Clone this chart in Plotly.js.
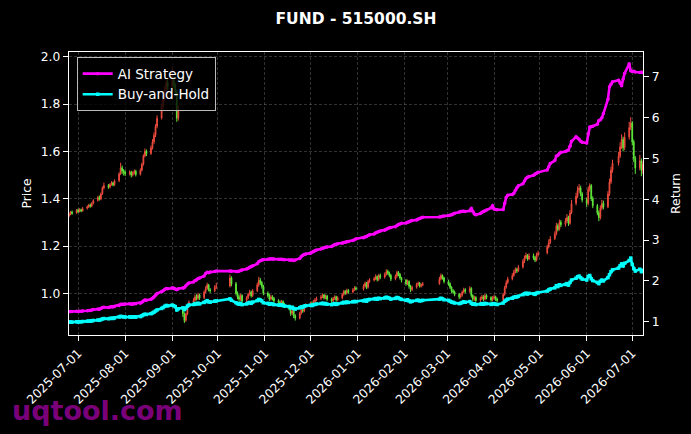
<!DOCTYPE html>
<html>
<head>
<meta charset="utf-8">
<script src="https://cdn.plot.ly/plotly-3.0.1.min.js"></script>
<style>html,body{margin:0;padding:0;background:#000;}#chart{width:691px;height:434px;}</style>
</head>
<body>
<div id="chart"></div>
<script>
// Trading calendar (weekdays minus exchange holidays)
const startDate = '2025-06-25';
const endDate = '2026-07-08';
const holidays = ['2025-10-01','2025-10-02','2025-10-03','2025-10-06','2025-10-07','2025-10-08',
  '2026-01-01','2026-01-02','2026-02-16','2026-02-17','2026-02-18','2026-02-19','2026-02-20','2026-02-23',
  '2026-04-06','2026-05-01','2026-05-04','2026-05-05','2026-06-19'];

const tickLabels = ['2025-07-01','2025-08-01','2025-09-01','2025-10-01','2025-11-01','2025-12-01',
  '2026-01-01','2026-02-01','2026-03-01','2026-04-01','2026-05-01','2026-06-01','2026-07-01'];

const openP = [
  1.328,1.336,1.344,1.340,
  1.352,1.346,1.354,1.349, 1.360,1.366,1.373,1.369,1.381, 1.393,1.406,1.399,1.421,1.446, 1.456,1.449,1.461,1.467,1.459, 1.476,1.506,1.531,1.519,
  1.513, 1.506,1.513,1.501,1.509,1.516, 1.503,1.521,1.546,1.581,1.601, 1.591,1.616,1.641,1.669,1.706, 1.741,1.791,1.821,1.861,1.891,
  1.876,1.901,1.881,1.851,1.741, 0.930,0.914,0.886,0.913,0.946, 0.963,0.971,0.986,0.979,0.993, 0.981,1.006,1.021,1.036,1.016, 1.011,1.026,
  1.031,1.066, 1.041,1.001,0.986,0.976,0.991, 0.969,0.981,0.996,1.006,0.991, 1.011,1.036,1.056,1.046,1.031,
  1.001,0.991,0.976,0.986,0.979, 0.969,0.963,0.959,0.966,0.953, 0.946,0.936,0.916,0.926,0.906, 0.896,0.916,0.931,0.926,0.946,
  0.951,0.959,0.953,0.966,0.973, 0.979,0.986,0.993,0.981,0.989, 0.976,0.969,0.979,0.986,0.973, 0.981,0.996,1.009,1.001,1.013, 1.006,1.016,1.023,
  1.019,1.031,1.043,1.026,1.051, 1.056,1.063,1.071,1.059,1.076, 1.069,1.081,1.093,1.086,1.076, 1.061,1.073,1.089,1.081,1.066,
  1.056,1.041,1.051,1.031,1.016, 1.026,1.039,1.043,1.031,1.036, 1.041,1.061,1.076,1.066,
  1.051,1.041,1.026,1.011,1.006, 0.996,0.986,0.993,1.006,1.016, 1.009,1.021,0.991,0.976,0.983, 0.971,0.979,0.986,0.976,0.991, 0.983,0.973,
  0.981,0.986,0.976, 0.971,0.996,1.026,1.046, 1.061,1.076,1.091,1.101,1.096, 1.111,1.136,1.151,1.161,1.146, 1.159,1.151,1.141,1.163,
  1.171,1.196,1.216, 1.231,1.251,1.286,1.271,1.301, 1.291,1.306,1.321,1.296,1.341, 1.381,1.411,1.436,1.446,1.421,
  1.396,1.381,1.441,1.456,1.401, 1.371,1.341,1.321,1.361,1.381, 1.366,1.421,1.471,1.521, 1.551,1.581,1.621,1.651,1.616, 1.661,1.701,
  1.721,1.641,1.571, 1.531,1.561,1.521
];
const highP = [
  1.342,1.348,1.350,1.356,
  1.358,1.360,1.358,1.365, 1.372,1.378,1.380,1.386,1.398, 1.412,1.414,1.426,1.452,1.468, 1.462,1.466,1.474,1.472,1.482, 1.512,1.552,1.540,1.525,
  1.520, 1.520,1.518,1.516,1.524,1.522, 1.528,1.552,1.588,1.612,1.608, 1.625,1.652,1.680,1.715,1.752, 1.800,1.835,1.875,1.910,1.905,
  1.960,1.915,1.890,1.862,1.795, 0.935,0.920,0.918,0.952,0.970, 0.980,0.995,0.996,1.002,0.998, 1.012,1.030,1.045,1.040,1.022, 1.035,1.045,
  1.080,1.072, 1.048,1.008,0.995,0.998,0.996, 0.988,1.002,1.015,1.012,1.018, 1.045,1.070,1.065,1.052,1.036,
  1.008,0.998,0.994,0.992,0.985, 0.975,0.970,0.972,0.970,0.960, 0.952,0.940,0.932,0.930,0.912, 0.922,0.938,0.940,0.952,0.958,
  0.965,0.966,0.972,0.980,0.986, 0.993,1.000,0.998,0.995,0.994, 0.982,0.985,0.992,0.990,0.988, 1.002,1.015,1.014,1.020,1.018, 1.022,1.030,1.030,
  1.038,1.050,1.048,1.058,1.064, 1.070,1.080,1.076,1.082,1.084, 1.088,1.102,1.100,1.092,1.082, 1.080,1.096,1.094,1.086,1.070,
  1.060,1.058,1.055,1.036,1.032, 1.045,1.050,1.048,1.042,1.048, 1.070,1.084,1.080,1.070,
  1.058,1.046,1.030,1.018,1.012, 1.002,1.000,1.012,1.024,1.022, 1.030,1.026,0.996,0.990,0.988, 0.986,0.994,0.992,0.998,0.996, 0.988,0.988,
  0.993,0.990,0.982, 1.002,1.032,1.055,1.070, 1.085,1.100,1.110,1.108,1.120, 1.145,1.160,1.172,1.166,1.170, 1.168,1.158,1.172,1.180,
  1.205,1.228,1.242, 1.262,1.298,1.295,1.312,1.310, 1.318,1.335,1.328,1.352,1.395, 1.425,1.452,1.462,1.455,1.428,
  1.405,1.452,1.465,1.462,1.410, 1.378,1.350,1.372,1.395,1.392, 1.432,1.485,1.535,1.565, 1.598,1.638,1.672,1.662,1.680, 1.725,1.745,
  1.728,1.650,1.580, 1.585,1.570,1.560
];
const lowP = [
  1.322,1.330,1.332,1.336,
  1.340,1.342,1.343,1.345, 1.354,1.360,1.362,1.364,1.376, 1.388,1.392,1.394,1.416,1.440, 1.442,1.444,1.455,1.452,1.454, 1.470,1.500,1.505,1.498,
  1.496, 1.498,1.490,1.494,1.502,1.494, 1.498,1.515,1.540,1.575,1.580, 1.585,1.608,1.632,1.660,1.698, 1.735,1.780,1.812,1.850,1.860,
  1.865,1.868,1.835,1.725,1.730, 0.900,0.875,0.880,0.908,0.940, 0.955,0.965,0.970,0.972,0.972, 0.976,1.000,1.015,1.008,1.002, 1.005,1.018,
  1.025,1.030, 0.992,0.975,0.965,0.968,0.960, 0.962,0.975,0.990,0.982,0.985, 1.005,1.028,1.035,1.020,0.992,
  0.982,0.968,0.970,0.970,0.960, 0.955,0.950,0.952,0.945,0.938, 0.928,0.905,0.908,0.895,0.885, 0.890,0.910,0.918,0.920,0.940,
  0.945,0.946,0.948,0.960,0.966, 0.972,0.980,0.974,0.975,0.968, 0.960,0.962,0.972,0.965,0.966, 0.975,0.990,0.994,0.995,0.998, 1.000,1.010,1.012,
  1.012,1.025,1.018,1.020,1.044, 1.050,1.056,1.050,1.052,1.060, 1.062,1.075,1.078,1.068,1.052, 1.055,1.066,1.072,1.058,1.046,
  1.032,1.035,1.020,1.005,1.010, 1.020,1.032,1.024,1.025,1.030, 1.036,1.055,1.058,1.042,
  1.032,1.018,1.002,0.998,0.988, 0.975,0.978,0.986,1.000,1.000, 1.002,0.982,0.966,0.968,0.962, 0.964,0.972,0.968,0.970,0.975, 0.965,0.966,
  0.974,0.968,0.962, 0.966,0.990,1.020,1.040, 1.055,1.070,1.084,1.086,1.090, 1.105,1.128,1.145,1.138,1.140, 1.142,1.132,1.135,1.155,
  1.165,1.190,1.208, 1.225,1.245,1.262,1.265,1.280, 1.282,1.298,1.285,1.290,1.335, 1.372,1.402,1.425,1.410,1.385,
  1.365,1.372,1.430,1.390,1.360, 1.330,1.305,1.312,1.352,1.355, 1.360,1.412,1.462,1.510, 1.540,1.572,1.610,1.600,1.605, 1.650,1.690,
  1.625,1.555,1.505, 1.520,1.495,1.505
];
const closeP = [
  1.335,1.342,1.338,1.350,
  1.345,1.352,1.348,1.358, 1.365,1.372,1.368,1.380,1.392, 1.405,1.398,1.420,1.445,1.455, 1.448,1.460,1.466,1.458,1.475, 1.505,1.530,1.518,1.512,
  1.505, 1.512,1.500,1.508,1.515,1.502, 1.520,1.545,1.580,1.600,1.590, 1.615,1.640,1.668,1.705,1.740, 1.790,1.820,1.860,1.890,1.875,
  1.900,1.880,1.850,1.740,1.780, 0.915,0.885,0.912,0.945,0.962, 0.970,0.985,0.978,0.992,0.980, 1.005,1.020,1.035,1.015,1.010, 1.025,1.030,
  1.065,1.040, 1.000,0.985,0.975,0.990,0.968, 0.980,0.995,1.005,0.990,1.010, 1.035,1.055,1.045,1.030,1.000,
  0.990,0.975,0.985,0.978,0.968, 0.962,0.958,0.965,0.952,0.945, 0.935,0.915,0.925,0.905,0.895, 0.915,0.930,0.925,0.945,0.950,
  0.958,0.952,0.965,0.972,0.978, 0.985,0.992,0.980,0.988,0.975, 0.968,0.978,0.985,0.972,0.980, 0.995,1.008,1.000,1.012,1.005, 1.015,1.022,1.018,
  1.030,1.042,1.025,1.050,1.055, 1.062,1.070,1.058,1.075,1.068, 1.080,1.092,1.085,1.075,1.060, 1.072,1.088,1.080,1.065,1.055,
  1.040,1.050,1.030,1.015,1.025, 1.038,1.042,1.030,1.035,1.040, 1.060,1.075,1.065,1.050,
  1.040,1.025,1.010,1.005,0.995, 0.985,0.992,1.005,1.015,1.008, 1.020,0.990,0.975,0.982,0.970, 0.978,0.985,0.975,0.990,0.982, 0.972,0.980,
  0.985,0.975,0.970, 0.995,1.025,1.045,1.060, 1.075,1.090,1.100,1.095,1.110, 1.135,1.150,1.160,1.145,1.158, 1.150,1.140,1.162,1.170,
  1.195,1.215,1.230, 1.250,1.285,1.270,1.300,1.290, 1.305,1.320,1.295,1.340,1.380, 1.410,1.435,1.445,1.420,1.395,
  1.380,1.440,1.455,1.400,1.370, 1.340,1.320,1.360,1.380,1.365, 1.420,1.470,1.520,1.550, 1.580,1.620,1.650,1.615,1.660, 1.700,1.720,
  1.640,1.570,1.530, 1.560,1.520,1.545
];
const aiStrategy = [
  1.245,1.250,1.248,1.255,
  1.252,1.258,1.255,1.262, 1.268,1.275,1.272,1.285,1.298, 1.310,1.305,1.325,1.345,1.352, 1.348,1.358,1.365,1.360,1.375, 1.400,1.425,1.430,1.428,
  1.432, 1.438,1.430,1.436,1.442,1.440, 1.455,1.478,1.510,1.530,1.525, 1.548,1.575,1.605,1.650,1.690, 1.735,1.760,1.790,1.815,1.808,
  1.830,1.822,1.800,1.785,1.805, 1.820,1.840,1.880,1.925,1.950, 1.975,2.010,2.020,2.060,2.070, 2.120,2.180,2.210,2.200,2.215, 2.230,2.240,
  2.242,2.238, 2.232,2.228,2.235,2.255,2.270, 2.290,2.310,2.335,2.350,2.370, 2.420,2.470,2.495,2.510,2.520,
  2.530,2.535,2.540,2.538,2.535, 2.530,2.528,2.532,2.525,2.520, 2.515,2.505,2.510,2.500,2.512, 2.550,2.600,2.630,2.645,2.660,
  2.680,2.700,2.720,2.740,2.755, 2.780,2.800,2.810,2.825,2.830, 2.845,2.870,2.895,2.900,2.910, 2.925,2.940,2.950,2.958,2.965, 2.990,3.010,3.030,
  3.060,3.075,3.090,3.110,3.130, 3.150,3.180,3.190,3.210,3.220, 3.240,3.265,3.285,3.300,3.310, 3.330,3.355,3.380,3.395,3.410,
  3.420,3.440,3.450,3.465,3.480, 3.495,3.515,3.530,3.545,3.560, 3.565,3.575,3.585,3.590,
  3.600,3.610,3.620,3.640,3.660, 3.690,3.700,3.705,3.710,3.700, 3.720,3.780,3.700,3.640,3.620, 3.650,3.680,3.700,3.720,3.740, 3.790,3.840,
  3.760,3.750,3.745, 3.750,3.900,4.050,4.100, 4.120,4.150,4.220,4.280,4.330, 4.380,4.450,4.510,4.540,4.560, 4.590,4.620,4.640,4.660,
  4.720,4.800,4.880, 4.950,5.060,5.080,5.120,5.150, 5.170,5.190,5.210,5.300,5.420, 5.530,5.500,5.470,5.420,5.400,
  5.380,5.600,5.770,5.780,5.790, 5.840,5.930,5.950,6.000,6.100, 6.450,6.760,6.820,6.880, 6.920,6.850,6.780,6.950,7.090, 7.320,7.150,
  7.130,7.140,7.120, 7.110,7.115,7.110
];
const buyAndHold = [
  0.988,0.993,0.990,0.999,
  0.995,1.000,0.997,1.005, 1.010,1.015,1.012,1.021,1.030, 1.040,1.034,1.051,1.069,1.077, 1.072,1.080,1.085,1.079,1.092, 1.114,1.132,1.123,1.119,
  1.114, 1.119,1.110,1.116,1.121,1.111, 1.125,1.143,1.169,1.184,1.177, 1.195,1.214,1.234,1.262,1.288, 1.325,1.347,1.376,1.399,1.388,
  1.406,1.391,1.369,1.288,1.317, 1.340,1.297,1.336,1.384,1.409, 1.421,1.443,1.433,1.453,1.436, 1.472,1.494,1.516,1.487,1.480, 1.502,1.509,
  1.560,1.524, 1.465,1.443,1.428,1.450,1.418, 1.436,1.458,1.472,1.450,1.480, 1.516,1.546,1.531,1.509,1.465,
  1.450,1.428,1.443,1.433,1.418, 1.409,1.403,1.414,1.395,1.384, 1.370,1.340,1.355,1.326,1.311, 1.340,1.362,1.355,1.384,1.392,
  1.403,1.395,1.414,1.424,1.433, 1.443,1.453,1.436,1.447,1.428, 1.418,1.433,1.443,1.424,1.436, 1.458,1.477,1.465,1.483,1.472, 1.487,1.497,1.491,
  1.509,1.527,1.502,1.538,1.546, 1.556,1.568,1.550,1.575,1.565, 1.582,1.600,1.590,1.575,1.553, 1.571,1.594,1.582,1.560,1.546,
  1.524,1.538,1.509,1.487,1.502, 1.521,1.527,1.509,1.516,1.524, 1.553,1.575,1.560,1.538,
  1.524,1.502,1.480,1.472,1.458, 1.443,1.453,1.472,1.487,1.477, 1.494,1.450,1.428,1.439,1.421, 1.433,1.443,1.428,1.450,1.439, 1.424,1.436,
  1.443,1.428,1.421, 1.458,1.502,1.531,1.553, 1.575,1.597,1.612,1.605,1.626, 1.663,1.685,1.700,1.678,1.696, 1.685,1.670,1.702,1.714,
  1.751,1.780,1.802, 1.831,1.883,1.861,1.905,1.890, 1.912,1.934,1.897,1.963,2.022, 2.066,2.102,2.117,2.080,2.044,
  2.022,2.110,2.132,2.051,2.007, 1.963,1.934,1.992,2.022,2.000, 2.080,2.153,2.227,2.271, 2.315,2.373,2.417,2.366,2.432, 2.500,2.560,
  2.403,2.300,2.241, 2.285,2.227,2.263
];

function pad(n){return (n<10?'0':'')+n;}
function tradingDays(s, e, hol){
  const out=[]; const d=new Date(s+'T00:00:00Z'); const end=new Date(e+'T00:00:00Z');
  while(d<=end){
    const wd=d.getUTCDay();
    const str=d.getUTCFullYear()+'-'+pad(d.getUTCMonth()+1)+'-'+pad(d.getUTCDate());
    if(wd!==0 && wd!==6 && hol.indexOf(str)<0) out.push(str);
    d.setUTCDate(d.getUTCDate()+1);
  }
  return out;
}
const dates = tradingDays(startDate, endDate, holidays);
const n = Math.min(dates.length, closeP.length);
const xs = dates.slice(0,n);

const font = 'DejaVu Sans, Liberation Sans, sans-serif';
const upColor = '#ee4b3e', downColor = '#5ee83a';
const gridColor = 'rgba(255,255,255,0.24)';

const traces = [
  {type:'candlestick', x:xs, open:openP.slice(0,n), high:highP.slice(0,n), low:lowP.slice(0,n), close:closeP.slice(0,n),
   increasing:{line:{color:upColor,width:1}, fillcolor:upColor},
   decreasing:{line:{color:downColor,width:1}, fillcolor:downColor},
   whiskerwidth:0, showlegend:false, hoverinfo:'skip', xaxis:'x', yaxis:'y'},
  {type:'scatter', mode:'lines+markers', name:'AI Strategy', x:xs, y:aiStrategy.slice(0,n),
   line:{color:'#ff00ff', width:2.6}, marker:{color:'#ff00ff', size:3.5, symbol:'circle'}, xaxis:'x', yaxis:'y2'},
  {type:'scatter', mode:'lines+markers', name:'Buy-and-Hold', x:xs, y:buyAndHold.slice(0,n),
   line:{color:'#00ffff', width:2.6}, marker:{color:'#00ffff', size:3.5, symbol:'square'}, xaxis:'x', yaxis:'y2'}
];

const tickFont = {family:font, size:12.3, color:'#ffffff'};
const layout = {
  width:691, height:434,
  paper_bgcolor:'#000000', plot_bgcolor:'#000000',
  margin:{l:69, r:48, t:52, b:99, autoexpand:false},
  showlegend:true,
  title:{text:'FUND - 515000.SH', font:{family:font, size:15.5, color:'#ffffff', weight:'bold'},
         x:0.5, xref:'paper', xanchor:'center', y:0.957, yref:'container', yanchor:'middle'},
  xaxis:{type:'date', range:['2025-06-25 00:00','2026-07-08 02:00'], rangeslider:{visible:false},
         tickmode:'array', tickvals:tickLabels, ticktext:tickLabels, tickangle:-45, tickfont:tickFont,
         showgrid:true, gridcolor:gridColor, griddash:'3px,2px', gridwidth:0.8,
         showline:true, linecolor:'#ffffff', linewidth:1.2, mirror:true,
         ticks:'outside', ticklen:5, tickcolor:'#ffffff', zeroline:false, fixedrange:true},
  yaxis:{range:[0.824, 2.02], tickmode:'array', tickvals:[1.0,1.2,1.4,1.6,1.8,2.0], tickformat:'.1f',
         tickfont:tickFont, title:{text:'Price', font:{family:font, size:12.3, color:'#ffffff'}, standoff:6},
         showgrid:true, gridcolor:gridColor, griddash:'3px,2px', gridwidth:0.8,
         showline:true, linecolor:'#ffffff', linewidth:1.2, ticks:'outside', ticklen:5, tickcolor:'#ffffff',
         zeroline:false, fixedrange:true},
  yaxis2:{overlaying:'y', side:'right', range:[0.674, 7.61], tickmode:'array', tickvals:[1,2,3,4,5,6,7],
         tickfont:tickFont, title:{text:'Return', font:{family:font, size:12.3, color:'#ffffff'}, standoff:12},
         showgrid:false, showline:true, linecolor:'#ffffff', linewidth:1.2, ticks:'outside', ticklen:5,
         tickcolor:'#ffffff', zeroline:false, fixedrange:true},
  legend:{x:0.0134, y:0.981, xanchor:'left', yanchor:'top', bgcolor:'rgba(0,0,0,0.78)',
          bordercolor:'#bbbbbb', borderwidth:1, font:{family:font, size:13.5, color:'#ffffff'},
          tracegroupgap:0},
  annotations:[{text:'<b>uqtool.com</b>', xref:'paper', yref:'paper', x:-0.103, y:-0.2665,
          xanchor:'left', yanchor:'middle', showarrow:false,
          font:{family:font, size:27, color:'rgba(140,0,140,0.9)'}}]
};

Plotly.newPlot('chart', traces, layout, {displayModeBar:false, staticPlot:true});
</script>
</body>
</html>
